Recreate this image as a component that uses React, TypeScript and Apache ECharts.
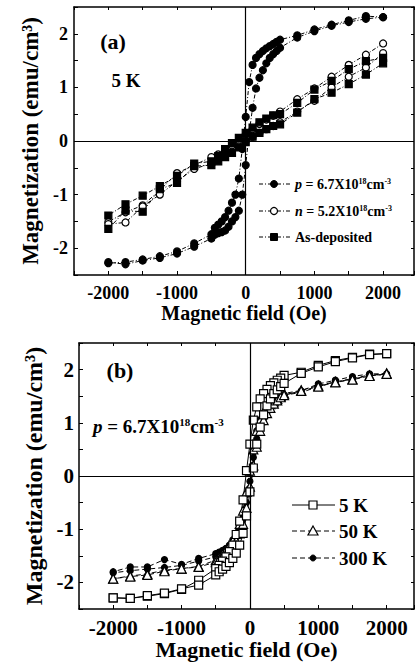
import React, { useEffect, useRef } from 'react';
import * as echarts from 'echarts';

// ---------- Data ----------
// Panel (a) and (b): fine field grid (descending branch, Oe)
const FIELD_FINE_DOWN = [2000, 1750, 1500, 1250, 1000, 750, 500, 450, 400, 350, 300, 250, 200, 150, 100, 50, 0, -50, -100, -150, -200, -250, -300, -350, -400, -450, -500, -750, -1000, -1250, -1500, -1750, -2000];
const FIELD_FINE_UP = [-2000, -1750, -1500, -1250, -1000, -750, -500, -450, -400, -350, -300, -250, -200, -150, -100, -50, 0, 50, 100, 150, 200, 250, 300, 350, 400, 450, 500, 750, 1000, 1250, 1500, 1750, 2000];
// Panel (a): coarse field grid for n-type and as-deposited
const FIELD_COARSE_DOWN = [2000, 1750, 1500, 1250, 1000, 750, 500, 400, 300, 200, 100, 0, -100, -200, -300, -400, -500, -750, -1000, -1250, -1500, -1750, -2000];
const FIELD_COARSE_UP = [-2000, -1750, -1500, -1250, -1000, -750, -500, -400, -300, -200, -100, 0, 100, 200, 300, 400, 500, 750, 1000, 1250, 1500, 1750, 2000];

// (a) p = 6.7e18 (filled circles)
const P_DOWN = [2.31, 2.33, 2.25, 2.17, 2.08, 1.97, 1.89, 1.85, 1.81, 1.77, 1.73, 1.68, 1.62, 1.55, 1.42, 1.1, 0.45, -0.15, -0.7, -1.0, -1.15, -1.3, -1.42, -1.5, -1.56, -1.62, -1.74, -1.91, -2.06, -2.15, -2.21, -2.26, -2.28];
const P_UP = [-2.26, -2.30, -2.23, -2.18, -2.10, -1.97, -1.82, -1.75, -1.72, -1.70, -1.67, -1.6, -1.5, -1.42, -1.3, -1.0, -0.45, 0.15, 0.62, 0.98, 1.18, 1.32, 1.45, 1.55, 1.62, 1.68, 1.74, 1.93, 2.05, 2.15, 2.22, 2.28, 2.31];
// (a) n = 5.2e18 (open circles)
const N_DOWN = [1.82, 1.61, 1.42, 1.2, 0.98, 0.78, 0.55, 0.47, 0.4, 0.32, 0.22, 0.12, 0.02, -0.08, -0.18, -0.25, -0.3, -0.45, -0.6, -0.92, -1.2, -1.33, -1.51];
const N_UP = [-1.55, -1.52, -1.22, -1.0, -0.75, -0.52, -0.42, -0.35, -0.28, -0.2, -0.1, 0.0, 0.08, 0.15, 0.22, 0.28, 0.35, 0.55, 0.75, 1.0, 1.2, 1.37, 1.64];
// (a) As-deposited (filled squares)
const AS_DOWN = [1.55, 1.49, 1.34, 1.12, 0.96, 0.71, 0.5, 0.48, 0.42, 0.35, 0.25, 0.15, 0.06, -0.04, -0.15, -0.28, -0.38, -0.42, -0.65, -0.84, -1.02, -1.18, -1.39];
const AS_UP = [-1.64, -1.3, -1.32, -0.9, -0.78, -0.47, -0.45, -0.38, -0.3, -0.22, -0.12, -0.02, 0.08, 0.15, 0.22, 0.28, 0.31, 0.53, 0.78, 0.9, 1.06, 1.24, 1.45];

// (b) 5 K (open squares)
const K5_DOWN = [2.30, 2.29, 2.23, 2.17, 2.08, 1.95, 1.89, 1.84, 1.8, 1.75, 1.7, 1.63, 1.55, 1.45, 1.3, 1.05, 0.6, 0.1, -0.45, -0.85, -1.1, -1.3, -1.42, -1.52, -1.6, -1.68, -1.74, -1.96, -2.13, -2.21, -2.26, -2.30, -2.29];
const K5_UP = [-2.29, -2.30, -2.25, -2.20, -2.12, -2.05, -1.86, -1.8, -1.75, -1.7, -1.63, -1.55, -1.45, -1.3, -1.08, -0.75, -0.3, 0.15, 0.6, 0.92, 1.15, 1.32, 1.45, 1.55, 1.62, 1.68, 1.74, 1.93, 2.05, 2.15, 2.22, 2.28, 2.30];
// (b) 50 K (open triangles)
const K50_DOWN = [1.93, 1.89, 1.82, 1.77, 1.70, 1.61, 1.55, 1.5, 1.45, 1.4, 1.35, 1.28, 1.2, 1.05, 0.85, 0.5, 0.1, -0.3, -0.65, -0.9, -1.08, -1.22, -1.32, -1.4, -1.47, -1.53, -1.58, -1.7, -1.74, -1.77, -1.84, -1.88, -1.93];
const K50_UP = [-1.93, -1.89, -1.86, -1.79, -1.74, -1.71, -1.62, -1.57, -1.52, -1.47, -1.4, -1.32, -1.22, -1.08, -0.9, -0.6, -0.2, 0.2, 0.55, 0.85, 1.05, 1.18, 1.28, 1.36, 1.42, 1.48, 1.52, 1.6, 1.68, 1.76, 1.81, 1.88, 1.92];
// (b) 300 K (small filled circles)
const K300_DOWN = [1.92, 1.92, 1.87, 1.8, 1.73, 1.6, 1.52, 1.48, 1.43, 1.38, 1.33, 1.26, 1.18, 1.05, 0.85, 0.5, 0.05, -0.35, -0.7, -0.92, -1.08, -1.2, -1.3, -1.36, -1.4, -1.43, -1.46, -1.55, -1.66, -1.57, -1.71, -1.71, -1.8];
const K300_UP = [-1.82, -1.78, -1.75, -1.72, -1.68, -1.6, -1.52, -1.47, -1.42, -1.37, -1.32, -1.25, -1.15, -1.0, -0.8, -0.5, -0.1, 0.35, 0.7, 0.92, 1.08, 1.2, 1.3, 1.37, 1.42, 1.47, 1.52, 1.57, 1.68, 1.77, 1.83, 1.9, 1.9];

const X_LABELS = [-2000, -1000, 0, 1000, 2000];
const Y_LABELS = [-2, -1, 0, 1, 2];

// ---------- helpers ----------
const FONT = '"Liberation Serif", "Times New Roman", serif';
const pair = (h: number[], m: number[]) => h.map((x, i) => [x, m[i]]);
const loop = (hd: number[], md: number[], hu: number[], mu: number[]) => [...pair(hd, md), ...pair(hu, mu)];

function xAxes(gridIndex: number, max: number, fs: number, nameFs: number, nameGap: number, margin: number) {
  return [
    {
      type: 'value', gridIndex, position: 'bottom', min: -2500, max, interval: 500,
      name: 'Magnetic field (Oe)', nameLocation: 'middle', nameGap,
      nameTextStyle: { fontFamily: FONT, fontWeight: 'bold', fontSize: nameFs, color: '#000' },
      axisLine: { show: true, onZero: false, lineStyle: { color: '#000', width: 1.5 } },
      axisTick: { show: true, inside: true, length: 4, lineStyle: { color: '#000', width: 1 } },
      axisLabel: {
        fontFamily: FONT, fontWeight: 'bold', fontSize: fs, color: '#000', margin,
        formatter: (v: number) => (X_LABELS.indexOf(v) >= 0 ? String(v) : ''),
      },
      splitLine: { show: false },
    },
    {
      type: 'value', gridIndex, position: 'top', min: -2500, max, interval: 500,
      axisLine: { show: true, onZero: false, lineStyle: { color: '#000', width: 1.5 } },
      axisTick: { show: true, inside: true, length: 3, lineStyle: { color: '#000', width: 1 } },
      axisLabel: { show: false },
      splitLine: { show: false },
    },
  ];
}

function yAxes(gridIndex: number, fs: number, nameFs: number, nameGap: number, margin: number) {
  return [
    {
      type: 'value', gridIndex, position: 'left', min: -2.5, max: 2.5, interval: 0.5,
      name: 'Magnetization (emu/cm³)', nameLocation: 'middle', nameGap,
      nameTextStyle: { fontFamily: FONT, fontWeight: 'bold', fontSize: nameFs, color: '#000' },
      axisLine: { show: true, onZero: false, lineStyle: { color: '#000', width: 1.5 } },
      axisTick: { show: true, inside: true, length: 4, lineStyle: { color: '#000', width: 1 } },
      axisLabel: {
        fontFamily: FONT, fontWeight: 'bold', fontSize: fs, color: '#000', margin,
        formatter: (v: number) => (Y_LABELS.indexOf(v) >= 0 ? String(v) : ''),
      },
      splitLine: { show: false },
    },
    {
      type: 'value', gridIndex, position: 'right', min: -2.5, max: 2.5, interval: 0.5,
      axisLine: { show: true, onZero: false, lineStyle: { color: '#000', width: 1.5 } },
      axisTick: { show: true, inside: true, length: 3, lineStyle: { color: '#000', width: 1 } },
      axisLabel: { show: false },
      splitLine: { show: false },
    },
  ];
}

const zeroLines = {
  silent: true,
  symbol: ['none', 'none'],
  label: { show: false },
  lineStyle: { color: '#000', width: 1.2, type: 'solid' },
  data: [{ xAxis: 0 }, { yAxis: 0 }],
  animation: false,
};

function series(name: string, xi: number, yi: number, data: number[][], symbol: string, size: number, filled: boolean, dash: any, extra: any = {}) {
  return {
    type: 'line', name, xAxisIndex: xi, yAxisIndex: yi, data,
    symbol, symbolSize: size, showAllSymbol: true,
    lineStyle: { color: '#000', width: 1, type: dash },
    itemStyle: { color: filled ? '#000' : '#fff', borderColor: '#000', borderWidth: 1.2 },
    emphasis: { disabled: true },
    z: 3,
    ...extra,
  };
}

const DASHDOT = [4, 2, 1, 2];

function legendEntry(y: number, x0: number, x1: number, xm: number, tx: number, sym: string, text: string, rich: any, fs: number, dash: any) {
  const els: any[] = [
    { type: 'line', shape: { x1: x0, y1: y, x2: x1, y2: y }, style: { stroke: '#000', lineWidth: 1, lineDash: dash } },
  ];
  if (sym === 'circle') els.push({ type: 'circle', shape: { cx: xm, cy: y, r: 3.5 }, style: { fill: '#000', stroke: '#000' } });
  if (sym === 'smallcircle') els.push({ type: 'circle', shape: { cx: xm, cy: y, r: 3 }, style: { fill: '#000', stroke: '#000' } });
  if (sym === 'emptyCircle') els.push({ type: 'circle', shape: { cx: xm, cy: y, r: 3.5 }, style: { fill: '#fff', stroke: '#000', lineWidth: 1.2 } });
  if (sym === 'rect') els.push({ type: 'rect', shape: { x: xm - 3.5, y: y - 3.5, width: 7, height: 7 }, style: { fill: '#000', stroke: '#000' } });
  if (sym === 'emptyRect') els.push({ type: 'rect', shape: { x: xm - 4, y: y - 4, width: 8, height: 8 }, style: { fill: '#fff', stroke: '#000', lineWidth: 1.2 } });
  if (sym === 'emptyTriangle') els.push({ type: 'polygon', shape: { points: [[xm, y - 5], [xm + 5, y + 4], [xm - 5, y + 4]] }, style: { fill: '#fff', stroke: '#000', lineWidth: 1.2 } });
  els.push({
    type: 'text', x: tx, y,
    style: { text, rich, fontFamily: FONT, fontWeight: 'bold', fontSize: fs, fill: '#000', verticalAlign: 'middle', align: 'left' },
  });
  return els;
}

export default function App() {
  const ref = useRef<HTMLDivElement>(null);
  useEffect(() => {
    if (!ref.current) return;
    const chart = echarts.init(ref.current, undefined, { renderer: 'svg' });
    const richA = {
      i: { fontStyle: 'italic', fontFamily: FONT, fontWeight: 'bold', fontSize: 14 },
      s: { fontFamily: FONT, fontWeight: 'bold', fontSize: 8, verticalAlign: 'top', lineHeight: 8 },
    };
    const richB = {
      i: { fontStyle: 'italic', fontFamily: FONT, fontWeight: 'bold', fontSize: 19 },
      s: { fontFamily: FONT, fontWeight: 'bold', fontSize: 11, verticalAlign: 'top', lineHeight: 11 },
    };
    const option: any = {
      animation: false,
      backgroundColor: '#fff',
      grid: [
        { left: 74, top: 7, width: 342, height: 268 },
        { left: 79, top: 343, width: 337, height: 266 },
      ],
      xAxis: [
        ...xAxes(0, 2450, 18, 20, 26, 9),
        ...xAxes(1, 2400, 21, 22, 27, 8),
      ],
      yAxis: [
        ...yAxes(0, 18, 23, 31, 6),
        ...yAxes(1, 21, 24, 31, 5),
      ],
      series: [
        series('p', 0, 0, loop(FIELD_FINE_DOWN, P_DOWN, FIELD_FINE_UP, P_UP), 'circle', 7, true, DASHDOT, { markLine: zeroLines }),
        series('n', 0, 0, loop(FIELD_COARSE_DOWN, N_DOWN, FIELD_COARSE_UP, N_UP), 'circle', 7, false, DASHDOT),
        series('As', 0, 0, loop(FIELD_COARSE_DOWN, AS_DOWN, FIELD_COARSE_UP, AS_UP), 'rect', 7, true, DASHDOT),
        series('300 K', 2, 2, loop(FIELD_FINE_DOWN, K300_DOWN, FIELD_FINE_UP, K300_UP), 'circle', 6, true, [5, 3], { markLine: zeroLines }),
        series('50 K', 2, 2, loop(FIELD_FINE_DOWN, K50_DOWN, FIELD_FINE_UP, K50_UP), 'triangle', 9, false, [5, 3]),
        series('5 K', 2, 2, loop(FIELD_FINE_DOWN, K5_DOWN, FIELD_FINE_UP, K5_UP), 'rect', 8, false, 'solid'),
      ],
      graphic: [
        { type: 'text', x: 113, y: 41, style: { text: '(a)', fontFamily: FONT, fontWeight: 'bold', fontSize: 22, fill: '#000', align: 'center', verticalAlign: 'middle' } },
        { type: 'text', x: 126, y: 80, style: { text: '5 K', fontFamily: FONT, fontWeight: 'bold', fontSize: 19, fill: '#000', align: 'center', verticalAlign: 'middle' } },
        { type: 'text', x: 120, y: 370, style: { text: '(b)', fontFamily: FONT, fontWeight: 'bold', fontSize: 22, fill: '#000', align: 'center', verticalAlign: 'middle' } },
        { type: 'text', x: 93, y: 426, style: { text: '{i|p} = 6.7X10{s|18}cm{s|-3}', rich: richB, fontFamily: FONT, fontWeight: 'bold', fontSize: 19, fill: '#000', align: 'left', verticalAlign: 'middle' } },
        ...legendEntry(184, 259, 290, 274, 295, 'circle', '{i|p} = 6.7X10{s|18}cm{s|-3}', richA, 14, DASHDOT),
        ...legendEntry(211, 259, 290, 274, 295, 'emptyCircle', '{i|n} = 5.2X10{s|18}cm{s|-3}', richA, 14, DASHDOT),
        ...legendEntry(237, 259, 290, 274, 295, 'rect', 'As-deposited', richA, 14, DASHDOT),
        ...legendEntry(505, 292, 335, 313, 339, 'emptyRect', '5 K', null, 19, null),
        ...legendEntry(531, 292, 335, 313, 339, 'emptyTriangle', '50 K', null, 19, [5, 3]),
        ...legendEntry(558, 292, 335, 313, 339, 'smallcircle', '300 K', null, 19, [5, 3]),
      ],
    };
    chart.setOption(option);
    return () => chart.dispose();
  }, []);
  return <div ref={ref} style={{ position: 'absolute', left: 0, top: 0, width: 417, height: 666, background: '#fff' }} />;
}
